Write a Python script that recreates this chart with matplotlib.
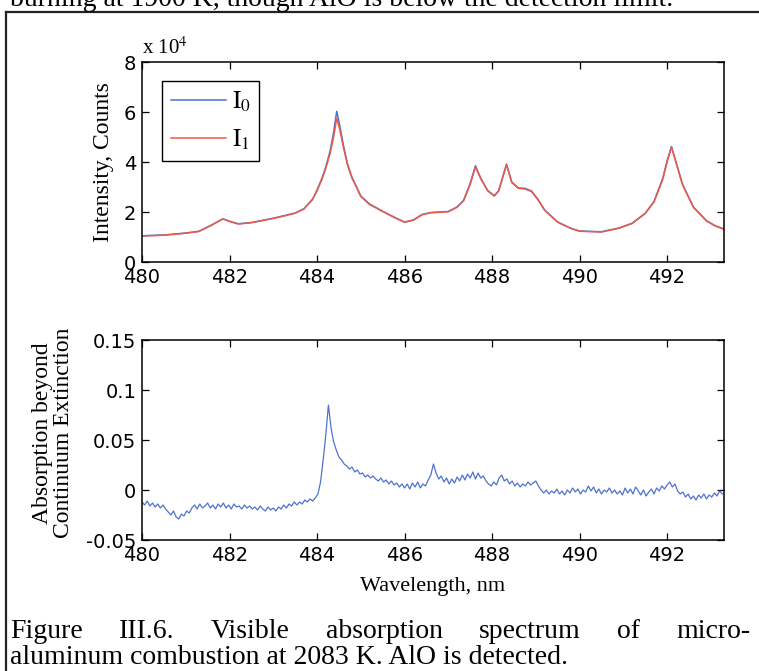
import numpy as np
import matplotlib
matplotlib.use("Agg")
import matplotlib.pyplot as plt
from matplotlib.lines import Line2D

# emission spectra, x 10^4 counts
top_wl = [480.0, 480.5, 481.0, 481.3, 481.6, 481.85, 482.0, 482.2, 482.5, 483.0,
          483.5, 483.7, 483.9, 484.0, 484.1, 484.2, 484.3, 484.38, 484.45, 484.52,
          484.6, 484.7, 484.8, 484.9, 485.0, 485.2, 485.5, 485.8, 486.0, 486.2,
          486.4, 486.6, 487.0, 487.2, 487.35, 487.5, 487.62, 487.75, 487.9, 488.05,
          488.15, 488.33, 488.45, 488.6, 488.75, 488.9, 489.05, 489.2, 489.5, 489.8,
          490.0, 490.5, 490.9, 491.2, 491.5, 491.7, 491.9, 492.0, 492.1, 492.2,
          492.35, 492.6, 492.9, 493.1, 493.3]
I0 = [1.05, 1.08, 1.16, 1.23, 1.49, 1.73, 1.63, 1.53, 1.58, 1.75,
      1.96, 2.13, 2.52, 2.88, 3.3, 3.8, 4.45, 5.2, 6.03, 5.45,
      4.7, 3.9, 3.38, 3.02, 2.64, 2.32, 2.03, 1.76, 1.6, 1.68,
      1.9, 1.98, 2.02, 2.2, 2.47, 3.15, 3.85, 3.32, 2.86, 2.65,
      2.85, 3.92, 3.2, 2.96, 2.95, 2.84, 2.5, 2.08, 1.6, 1.35,
      1.24, 1.21, 1.36, 1.55, 1.95, 2.42, 3.35, 4.05, 4.62, 4.02,
      3.12, 2.2, 1.65, 1.45, 1.32]
I1 = [1.04, 1.07, 1.15, 1.22, 1.48, 1.72, 1.62, 1.52, 1.57, 1.74,
      1.95, 2.12, 2.5, 2.85, 3.25, 3.75, 4.35, 5.0, 5.75, 5.3,
      4.6, 3.85, 3.35, 3.0, 2.62, 2.3, 2.02, 1.75, 1.59, 1.67,
      1.89, 1.97, 2.01, 2.19, 2.45, 3.1, 3.8, 3.3, 2.85, 2.64,
      2.84, 3.88, 3.18, 2.95, 2.92, 2.82, 2.49, 2.07, 1.59, 1.34,
      1.23, 1.2, 1.35, 1.54, 1.94, 2.4, 3.3, 4.0, 4.6, 4.0,
      3.1, 2.19, 1.64, 1.44, 1.31]

# absorption beyond continuum, sampled every 0.06 nm from 480 nm
abs_start = 480.0
abs_step = 0.06
absorption = [
    -0.012, -0.015, -0.011, -0.016, -0.013, -0.017, -0.014, -0.018, -0.015, -0.019,
    -0.022, -0.025, -0.021, -0.027, -0.029, -0.024, -0.026, -0.021, -0.023, -0.018,
    -0.015, -0.019, -0.014, -0.018, -0.016, -0.013, -0.018, -0.015, -0.019, -0.014,
    -0.017, -0.013, -0.018, -0.015, -0.019, -0.014, -0.017, -0.016, -0.019, -0.015,
    -0.018, -0.016, -0.019, -0.017, -0.020, -0.016, -0.019, -0.021, -0.017, -0.020,
    -0.018, -0.021, -0.017, -0.019, -0.015, -0.018, -0.014, -0.016, -0.012, -0.015,
    -0.012, -0.014, -0.010, -0.012, -0.009, -0.011, -0.008, -0.004, 0.008, 0.030,
    0.055, 0.085, 0.062, 0.048, 0.040, 0.033, 0.030, 0.026, 0.024, 0.021,
    0.023, 0.018, 0.020, 0.016, 0.017, 0.013, 0.015, 0.012, 0.014, 0.011,
    0.009, 0.012, 0.008, 0.010, 0.006, 0.009, 0.005, 0.007, 0.003, 0.006,
    0.002, 0.006, 0.001, 0.007, 0.003, 0.008, 0.002, 0.006, 0.004, 0.010,
    0.015, 0.026, 0.017, 0.011, 0.014, 0.008, 0.012, 0.006, 0.011, 0.007,
    0.013, 0.009, 0.015, 0.010, 0.016, 0.012, 0.018, 0.011, 0.017, 0.012,
    0.014, 0.009, 0.006, 0.004, 0.008, 0.005, 0.012, 0.015, 0.009, 0.011,
    0.006, 0.009, 0.004, 0.007, 0.003, 0.006, 0.004, 0.008, 0.005, 0.007,
    0.009, 0.004, 0.000, -0.003, 0.000, -0.004, -0.001, -0.003, 0.001, -0.004,
    -0.001, -0.005, 0.000, -0.003, 0.002, -0.002, 0.001, -0.004, 0.000, -0.002,
    0.004, -0.001, 0.003, -0.003, 0.001, -0.004, 0.000, -0.002, 0.002, -0.003,
    0.000, -0.004, -0.001, -0.005, 0.002, -0.003, 0.001, -0.004, 0.003, -0.001,
    -0.005, 0.000, -0.006, -0.002, 0.001, -0.004, 0.002, -0.001, 0.004, 0.001,
    0.005, 0.008, 0.003, 0.006, -0.001, -0.004, -0.002, -0.007, -0.004, -0.009,
    -0.006, -0.010, -0.005, -0.008, -0.004, -0.009, -0.005, -0.007, -0.003, -0.006,
    -0.001, -0.004,
]
abs_wl = abs_start + abs_step * np.arange(len(absorption))

xticks = [480, 482, 484, 486, 488, 490, 492]
top_yticks = [0, 2, 4, 6, 8]
bot_yticks = [-0.05, 0, 0.05, 0.1, 0.15]
bot_yticklabels = ["-0.05", "0", "0.05", "0.1", "0.15"]

blue = "#4f72cf"
red = "#ee5a45"
serif = ["Liberation Serif", "DejaVu Serif"]

plt.rcParams["font.family"] = ["DejaVu Sans"]
plt.rcParams["mathtext.fontset"] = "stix"

W, H = 759, 671
fig = plt.figure(figsize=(W / 100, H / 100), dpi=100)


def px_axes(l, t, r, b):
    return fig.add_axes([l / W, 1 - b / H, (r - l) / W, (b - t) / H])


def style(ax):
    ax.tick_params(direction="in", length=5, width=0.9, top=True, right=True,
                   labelsize=14, pad=4)
    for s in ax.spines.values():
        s.set_linewidth(1.1)
    ax.set_xlim(480, 493.3)
    ax.set_xticks(xticks)


ax1 = px_axes(142, 62, 724, 262)
ax1.plot(top_wl, I0, color=blue, lw=1.1, label=r"$\mathrm{I}_0$")
ax1.plot(top_wl, I1, color=red, lw=1.1, label=r"$\mathrm{I}_1$")
style(ax1)
ax1.set_ylim(0, 8)
ax1.set_yticks(top_yticks)
leg = ax1.legend(loc="upper left", bbox_to_anchor=(0.034, 0.905), fontsize=18,
                 fancybox=False, edgecolor="black", framealpha=1,
                 handlelength=2.2, labelspacing=0.55, borderpad=0.35,
                 handletextpad=0.25, borderaxespad=0)
leg.get_frame().set_linewidth(1.0)

ax2 = px_axes(142, 340, 724, 540)
ax2.plot(abs_wl, absorption, color=blue, lw=0.9)
style(ax2)
ax2.set_ylim(-0.05, 0.15)
ax2.set_yticks(bot_yticks)
ax2.set_yticklabels(bot_yticklabels)

fig.text(142 / W, 1 - 48 / H, r"x 10$^4$", fontsize=15, family=serif,
         ha="left", va="center")
fig.text(103 / W, 1 - 162 / H, "Intensity, Counts", fontsize=17, family=serif,
         rotation=90, ha="center", va="center")
fig.text(53 / W, 1 - 433 / H, "Absorption beyond\nContinuum Extinction",
         fontsize=17, family=serif, rotation=90, ha="center", va="center",
         multialignment="center", linespacing=1.0)
fig.text(433 / W, 1 - 586 / H, "Wavelength, nm", fontsize=16, family=serif,
         ha="center", va="center")

# frame of the scanned figure box
fig.add_artist(Line2D([6 / W, 6 / W], [0, 1 - 12 / H], color="#222222", lw=1.6))
fig.add_artist(Line2D([6 / W, 1], [1 - 12 / H, 1 - 12 / H], color="#222222", lw=1.6))

# text cut at top of scan
fig.text(10 / W, 1 - 6 / H, "burning at 1900 K, though AlO is below the detection limit.",
         fontsize=20, family=serif, ha="left", va="baseline")

# caption, first line justified
words = ["Figure", "III.6.", "Visible", "absorption", "spectrum", "of", "micro-"]
texts = [fig.text(0, 1 - 638 / H, w, fontsize=20, family=serif, ha="left",
                  va="baseline") for w in words]
fig.canvas.draw()
rend = fig.canvas.get_renderer()
widths = [t.get_window_extent(rend).width for t in texts]
gap = (750 - 10 - sum(widths)) / (len(words) - 1)
x = 10
for t, w in zip(texts, widths):
    t.set_x(x / W)
    x += w + gap
fig.text(10 / W, 1 - 664 / H, "aluminum combustion at 2083 K. AlO is detected.",
         fontsize=20, family=serif, ha="left", va="baseline")

fig.savefig("out.png", dpi=100)
